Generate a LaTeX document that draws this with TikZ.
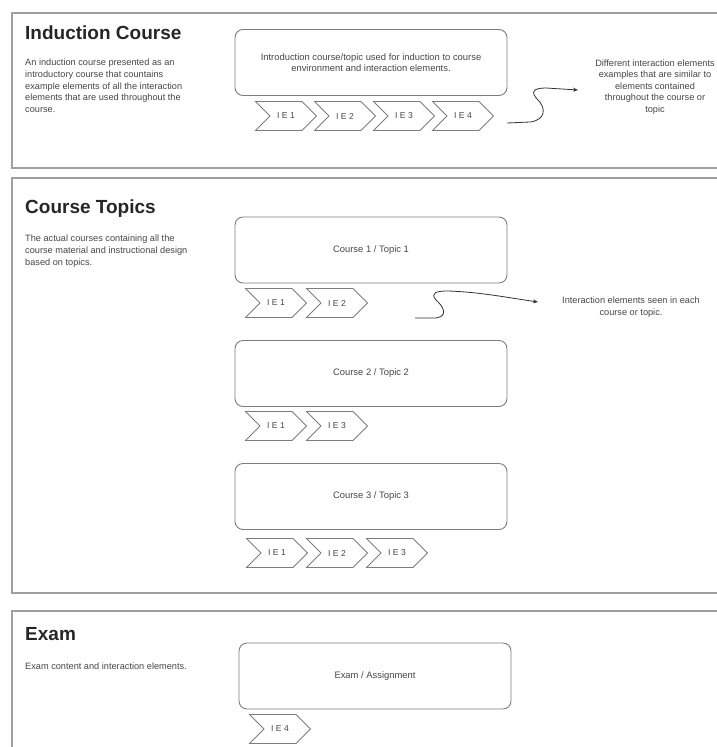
\documentclass[tikz,border=0pt]{standalone}
\usepackage{fontspec}
\setmainfont{Liberation Sans}
\usetikzlibrary{shapes.symbols,arrows.meta,positioning}
\definecolor{framegray}{RGB}{160,160,160}
\definecolor{boxgray}{RGB}{125,125,125}
\definecolor{textgray}{RGB}{70,70,70}

\begin{document}
\begin{tikzpicture}[
    x=1pt, y=-1pt,
    panel/.style={draw=framegray, line width=1.6pt},
    title/.style={anchor=west, inner sep=0pt, font=\fontsize{19}{22}\selectfont\bfseries, text=black!85},
    desc/.style={anchor=north west, align=left, inner sep=0pt, font=\fontsize{9.2}{11.6}\selectfont, text=textgray},
    unit/.style={draw=boxgray, line width=0.9pt, rounded corners=8pt, minimum width=272pt, minimum height=66pt, align=center, font=\fontsize{9.4}{11.6}\selectfont, text=textgray},
    ie/.style={signal, signal from=west, signal to=east, signal pointer angle=90, draw=boxgray, line width=0.8pt, minimum width=61pt, minimum height=29pt, inner sep=0pt, font=\fontsize{8.6}{10}\selectfont, text=textgray},
    note/.style={align=center, inner sep=0pt, font=\fontsize{9.2}{11.6}\selectfont, text=textgray},
    squiggle/.style={-{Stealth[length=5pt,width=4pt]}, line width=0.8pt, black!80}
]
\useasboundingbox (0,0) rectangle (717,747);
\clip (0,0) rectangle (717,747);

% Panels (run off the page on the right)
\draw[panel] (12,13) rectangle (740,168);
\draw[panel] (12,178) rectangle (740,593);
\draw[panel] (12,611) rectangle (740,790);

% Induction course
\node[title] (indtitle) at (25,33) {Induction Course};
\node[desc] (inddesc) at (25,59) {An induction course presented as an\\introductory course that countains\\example elements of all  the interaction\\elements that are used throughout the\\course.};
\node[unit] (induction) at (371,62.5) {Introduction course/topic used for induction to course\\environment and interaction elements.};
\foreach \n/\x in {1/286,2/345,3/404,4/463}
    \node[ie] (ind\n) at (\x,116) {I E \n};
\node[note] (indnote) at (655,87) {Different interaction elements\\examples that are similar to\\elements contained\\throughout the course or\\topic};
\coordinate (indstart) at (507,123);
\coordinate (indend) at (578,90);
\draw[squiggle] (indstart) -- (530,122) .. controls (546,120) and (546,108) .. (538,100)
    .. controls (530,92) and (533,88) .. (546,88) -- (indend);

% Course topics
\node[title] (toptitle) at (25,209) {Course Topics};
\node[desc] (topdesc) at (25,235) {The actual courses containing all the\\course material and instructional design\\based on topics.};
\node[unit] (course1) at (371,250) {Course 1 / Topic 1};
\node[ie] (c1ie1) at (276,303) {I E 1};
\node[ie] (c1ie2) at (337,303) {I E 2};
\node[note] (topnote) at (631,307) {Interaction elements seen in each\\course or topic.};
\coordinate (topstart) at (415,318);
\coordinate (topend) at (538,302);
\draw[squiggle] (topstart) -- (436,318) .. controls (449,316) and (443,306) .. (436,300)
    .. controls (430,293) and (436,291) .. (448,291) .. controls (480,292) and (510,298) .. (topend);

\node[unit] (course2) at (371,373.5) {Course 2 / Topic 2};
\node[ie] (c2ie1) at (276,426) {I E 1};
\node[ie] (c2ie3) at (337,426) {I E 3};

\node[unit] (course3) at (371,496.5) {Course 3 / Topic 3};
\foreach \n/\x in {1/277,2/337,3/397}
    \node[ie] (c3ie\n) at (\x,553) {I E \n};

% Exam
\node[title] (examtitle) at (25,634) {Exam};
\node[desc] (examdesc) at (25,663) {Exam content and interaction elements.};
\node[unit] (exam) at (375,676) {Exam / Assignment};
\node[ie] (examie4) at (280,729) {I E 4};

\end{tikzpicture}
\end{document}
